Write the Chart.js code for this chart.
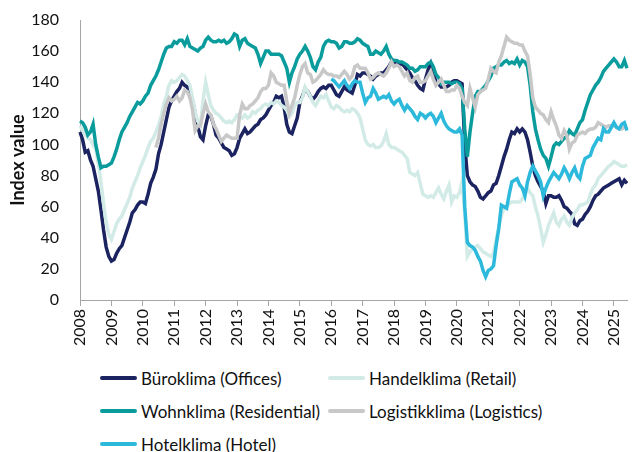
<!DOCTYPE html>
<html>
<head>
<meta charset="utf-8">
<script src="https://cdn.jsdelivr.net/npm/chart.js@4.4.1/dist/chart.umd.min.js"></script>
<style>
  html, body { margin: 0; padding: 0; background: #fff; }
  #wrap { position: relative; width: 632px; height: 452px; font-family: Lato, 'Liberation Sans', sans-serif; }
  #box { position: absolute; left: 0; top: 0; width: 632px; height: 352px; }
  .leg { position: absolute; display: flex; align-items: center; font-size: 17px; color: #111; white-space: nowrap; }
  .leg i { display: inline-block; height: 4px; border-radius: 2px; margin-right: 4px; }
</style>
</head>
<body>
<div id="wrap">
  <div id="box"><canvas id="c"></canvas></div>
</div>
<script>
// ----- Data (monthly, Jan 2008 - Jun 2025) -----

const years = [];
for (let y = 2008; y <= 2025; y++) years.push(y);
const months = [];
years.forEach(y => {
  for (let m = 1; m <= 12; m++) months.push(y + '-' + String(m).padStart(2, '0'));
});
months.length = 210;

const offices = [
  108, 103, 95, 96, 90, 86, 78, 70, 58, 45, 34, 28,
  25, 26, 30, 33, 35, 40, 45, 50, 56, 58, 61, 63,
  63, 62, 68, 75, 79, 84, 94, 100, 108, 116, 124, 128,
  131, 134, 136, 140, 138, 137, 131, 128, 120, 112, 105, 103,
  112, 119, 118, 113, 106, 104, 101, 98, 97, 96, 93, 94,
  98, 104, 107, 110, 107, 108, 110, 112, 113, 116, 117, 119,
  122, 125, 127, 131, 130, 131, 124, 113, 108, 107, 112, 117,
  127, 131, 136, 134, 131, 129, 131, 134, 136, 137, 136, 138,
  138, 135, 132, 131, 134, 137, 135, 134, 133, 138, 145, 144,
  146, 146, 145, 144, 142, 144, 145, 146, 146, 148, 150, 153,
  152, 153, 151, 152, 150, 148, 146, 143, 141, 138, 136, 135,
  142, 148, 152, 146, 140, 139, 137, 137, 137, 138, 140, 141,
  141, 140, 139, 100, 80, 76, 74, 73, 70, 66, 65, 67,
  69, 70, 74, 75, 80, 86, 92, 97, 103, 108, 107, 110,
  108, 110, 108, 103, 95, 86, 80, 76, 73, 70, 62, 67,
  67, 66, 66, 67, 64, 60, 59, 57, 55, 49, 48, 51,
  52, 55, 57, 60, 64, 67, 68, 70, 72, 73, 74, 75,
  76, 77, 78, 74, 77, 75,
];

const retail = [
  112, 109, 106, 104, 103, 100, 97, 88, 76, 62, 50, 42,
  39, 44, 49, 52, 54, 58, 62, 66, 72, 76, 80, 85,
  89, 93, 98, 102, 104, 108, 112, 118, 126, 131, 138, 141,
  140, 141, 143, 145, 144, 141, 138, 130, 121, 115, 112, 128,
  140, 132, 125, 122, 120, 119, 117, 115, 114, 115, 114, 116,
  119, 118, 117, 119, 117, 118, 121, 120, 122, 123, 125, 126,
  125, 127, 126, 128, 127, 125, 124, 122, 118, 120, 125, 127,
  127, 130, 137, 134, 131, 127, 125, 128, 131, 130, 132, 128,
  124, 123, 125, 124, 122, 121, 122, 121, 123, 122, 120, 117,
  110, 103, 100, 99, 100, 98, 98, 99, 102, 107, 100, 98,
  98, 97, 96, 95, 93, 91, 82, 81, 80, 82, 75, 68,
  67, 66, 67, 66, 69, 72, 68, 65, 70, 74, 63, 67,
  66, 69, 76, 56, 28, 31, 33, 34, 35, 33, 31, 30,
  29, 28, 30, 39, 47, 54, 59, 60, 62, 63, 63, 63,
  63, 65, 68, 72, 69, 67, 60, 54, 46, 37, 42, 48,
  52, 56, 50, 48, 52, 54, 50, 48, 53, 56, 58, 61,
  61, 62, 63, 68, 72, 74, 78, 80, 82, 84, 86, 87,
  89, 88, 87, 86, 86, 87,
];

const residential = [
  115, 114, 111, 106, 108, 113, 100, 92, 85, 86, 86, 87,
  88, 92, 97, 103, 108, 111, 114, 118, 121, 124, 127, 126,
  128, 131, 133, 138, 141, 144, 148, 153, 158, 162, 163, 163,
  166, 165, 167, 167, 164, 168, 163, 162, 161, 160, 162, 163,
  167, 169, 167, 166, 166, 167, 166, 167, 165, 166, 168, 171,
  170, 163, 167, 168, 165, 164, 163, 162, 158, 152, 156, 160,
  160, 158, 158, 158, 158, 157, 153, 149, 140, 146, 150, 155,
  158, 160, 163, 160, 156, 150, 148, 153, 156, 163, 166, 167,
  166, 166, 165, 162, 163, 166, 166, 165, 165, 166, 168, 167,
  165, 164, 163, 158, 158, 160, 159, 158, 160, 163, 158, 155,
  154, 154, 153, 153, 152, 151, 149, 149, 147, 148, 150, 150,
  150, 152, 153, 150, 145, 143, 139, 140, 140, 140, 139, 140,
  140, 139, 136, 110, 92, 108, 120, 131, 134, 134, 136, 138,
  141, 144, 149, 150, 151, 151, 153, 154, 152, 153, 152, 155,
  151, 154, 153, 150, 138, 121, 110, 103, 97, 93, 91, 86,
  92, 99, 101, 100, 102, 104, 105, 109, 107, 106, 110, 114,
  116, 122, 127, 132, 135, 138, 140, 143, 147, 149, 151, 153,
  155, 153, 150, 150, 154, 149,
];

const logistics = [
  null, null, null, null, null, null, null, null, null, null, null, null,
  null, null, null, null, null, null, null, null, null, null, null, null,
  null, null, null, null, null, 98, 104, 113, 120, 126, 130, 128,
  129, 131, 128, 130, 135, 134, 130, 122, 109, 112, 112, 120,
  126, 121, 119, 113, 110, 106, 102, 104, 106, 105, 104, 104,
  104, 119, 126, 123, 123, 125, 126, 128, 130, 134, 136, 136,
  138, 146, 144, 140, 139, 138, 138, 128, 120, 125, 130, 138,
  145, 150, 152, 146, 145, 140, 141, 143, 145, 148, 146, 145,
  145, 144, 144, 143, 145, 147, 145, 142, 144, 150, 151, 149,
  149, 149, 146, 142, 143, 145, 146, 145, 144, 146, 149, 153,
  150, 151, 150, 147, 144, 146, 141, 140, 143, 144, 140, 140,
  141, 144, 147, 142, 138, 140, 142, 138, 134, 134, 135, 135,
  138, 136, 131, 127, 125, 136, 130, 124, 132, 134, 135, 136,
  142, 149, 147, 146, 153, 157, 163, 169, 167, 166, 165, 165,
  164, 164, 160, 157, 145, 130, 124, 122, 120, 119, 116, 114,
  121, 116, 112, 106, 104, 109, 106, 97, 101, 102, 106, 107,
  108, 107, 109, 110, 110, 111, 114, 113, 112, 111, 112, 112,
  112, 111, 110, 110, 111, 112,
];

const hotel = [
  null, null, null, null, null, null, null, null, null, null, null, null,
  null, null, null, null, null, null, null, null, null, null, null, null,
  null, null, null, null, null, null, null, null, null, null, null, null,
  null, null, null, null, null, null, null, null, null, null, null, null,
  null, null, null, null, null, null, null, null, null, null, null, null,
  null, null, null, null, null, null, null, null, null, null, null, null,
  null, null, null, null, null, null, null, null, null, null, null, null,
  null, null, null, null, null, null, null, null, null, null, null, null,
  142, 141, 139, 137, 139, 141, 138, 136, 139, 141, 140, 140,
  133, 127, 130, 131, 136, 133, 129, 130, 131, 130, 132, 128,
  126, 128, 129, 125, 122, 125, 123, 121, 118, 116, 120, 119,
  117, 119, 120, 118, 114, 117, 120, 115, 112, 110, 109, 108,
  108, 110, 106, 60, 37, 35, 34, 32, 28, 25, 19, 15,
  19, 20, 22, 35, 46, 61, 60, 59, 68, 76, 77, 78,
  74, 72, 67, 76, 82, 86, 83, 80, 76, 67, 72, 76,
  79, 82, 80, 78, 81, 85, 82, 78, 82, 85, 80, 78,
  86, 91, 92, 93, 98, 101, 104, 103, 110, 108, 108, 111,
  114, 111, 110, 113, 114, 109,
];

const seriesNames = [
  'Büroklima (Offices)',
  'Handelklima (Retail)',
  'Wohnklima (Residential)',
  'Logistikklima (Logistics)',
  'Hotelklima (Hotel)',
];
const seriesValues = [offices, retail, residential, logistics, hotel];
const seriesColors = ['#1c2361', '#d2ebe6', '#0a9c9c', '#c8c8c8', '#2cb9dc'];

// ----- Chart -----

const AXIS = '#a6a6a6';
const FONT = 'Lato, "Liberation Sans", sans-serif';

new Chart(document.getElementById('c'), {
  type: 'line',
  data: {
    labels: months,
    datasets: seriesValues.map((vals, i) => ({
      label: seriesNames[i],
      data: vals,
      borderColor: seriesColors[i],
      backgroundColor: seriesColors[i],
      borderWidth: 3.5,
      pointRadius: 0,
      tension: 0,
      order: seriesValues.length - i,
    })),
  },
  options: {
    responsive: true,
    maintainAspectRatio: false,
    animation: false,
    layout: { padding: { left: 0, right: 5, top: 20, bottom: 0 } },
    plugins: {
      legend: { display: false },
      tooltip: { enabled: false },
    },
    scales: {
      x: {
        type: 'category',
        offset: false,
        border: { display: true, color: AXIS, width: 1 },
        grid: {
          drawOnChartArea: false,
          drawTicks: true,
          tickLength: 6,
          color: ctx => (ctx.index % 12 === 0 ? AXIS : 'rgba(0,0,0,0)'),
        },
        ticks: {
          autoSkip: false,
          maxRotation: 90,
          minRotation: 90,
          padding: 3,
          color: '#111',
          font: { family: FONT, size: 16 },
          callback: (v, i) => (i % 12 === 0 ? months[i].slice(0, 4) : ''),
        },
        afterFit: scale => {
          scale.height = 52;
          scale.paddingLeft = 0;
          scale.paddingRight = 0;
        },
      },
      y: {
        min: 0,
        max: 180,
        border: { display: true, color: AXIS, width: 1 },
        grid: { display: false },
        ticks: {
          stepSize: 20,
          padding: 13,
          color: '#111',
          font: { family: FONT, size: 16 },
        },
        title: {
          display: true,
          text: 'Index value',
          color: '#111',
          padding: { top: 7, bottom: 0 },
          font: { family: FONT, size: 18, weight: 'bold' },
        },
        afterFit: scale => {
          scale.width = 80;
          scale.paddingTop = 0;
          scale.paddingBottom = 0;
        },
      },
    },
  },
});

// ----- Legend (two columns, like the source) -----

const legendSpots = [
  { x: 100, y: 378 },
  { x: 328, y: 378 },
  { x: 100, y: 411 },
  { x: 328, y: 411 },
  { x: 100, y: 444 },
];
const wrap = document.getElementById('wrap');
seriesNames.forEach((name, i) => {
  const el = document.createElement('div');
  el.className = 'leg';
  el.style.left = legendSpots[i].x + 'px';
  el.style.top = (legendSpots[i].y - 11) + 'px';
  el.style.height = '22px';
  el.innerHTML = '<i style="width:37px;background:' + seriesColors[i] + '"></i>' + name;
  wrap.appendChild(el);
});
</script>
</body>
</html>
